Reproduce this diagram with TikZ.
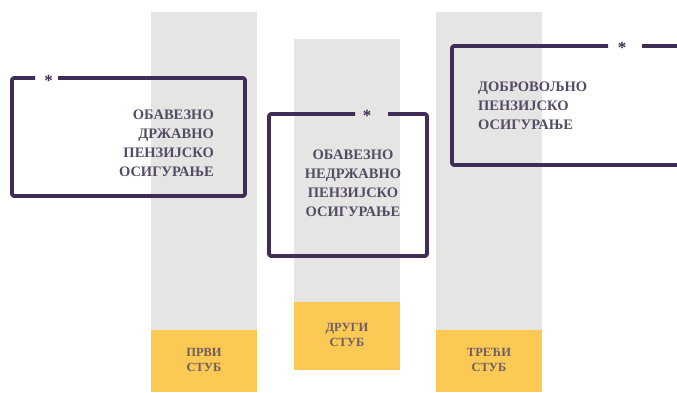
\documentclass[tikz,border=0pt]{standalone}
\usepackage{fontspec}
\setmainfont{Liberation Serif}
\definecolor{colgray}{HTML}{E5E5E3}
\definecolor{colyellow}{HTML}{FDC955}
\definecolor{framecol}{HTML}{3F2D57}
\definecolor{txtcol}{HTML}{564B66}
\definecolor{stubcol}{HTML}{6E5E62}
\tikzset{
  column/.style={fill=colgray, draw=none},
  base/.style={fill=colyellow, draw=none},
  frame/.style={draw=framecol, line width=3.6pt, line join=round, line cap=butt, rounded corners=1.5pt},
  boxtext/.style={text=txtcol, inner sep=0pt, font=\fontsize{14.5}{18.8}\selectfont\bfseries},
  stubtext/.style={text=stubcol, inner sep=0pt, align=center, font=\fontsize{12.5}{15.5}\selectfont\bfseries},
  starmark/.style={text=framecol, inner sep=0pt, font=\fontsize{17}{17}\selectfont\bfseries}
}
\begin{document}
\begin{tikzpicture}[x=1pt,y=-1pt]
\useasboundingbox (0,0) rectangle (677,392);
\clip (0,0) rectangle (677,392);
% columns
\fill[column] (151,12) rectangle (257,392);
\fill[column] (294,39) rectangle (400,302);
\fill[column] (436,12) rectangle (542,392);
% bases
\fill[base] (151,330) rectangle (257,392);
\fill[base] (294,302) rectangle (400,370);
\fill[base] (436,330) rectangle (542,392);
% base labels
\node[stubtext] (s1) at (204,360) {ПРВИ\\СТУБ};
\node[stubtext] (s2) at (347,335) {ДРУГИ\\СТУБ};
\node[stubtext] (s3) at (489,360) {ТРЕЋИ\\СТУБ};
% frame 1
\draw[frame] (35,78) -- (12,78) -- (12,196) -- (245,196) -- (245,78) -- (58,78);
\node[starmark] (st1) at (48.5,81) {*};
\node[boxtext, align=right, anchor=north east] (t1) at (214,110) {ОБАВЕЗНО\\ДРЖАВНО\\ПЕНЗИЈСКО\\ОСИГУРАЊЕ};
% frame 2
\draw[frame] (355,114) -- (269,114) -- (269,256) -- (427,256) -- (427,114) -- (388,114);
\node[starmark] (st2) at (367,116) {*};
\node[boxtext, align=center, anchor=north] (t2) at (353,150) {ОБАВЕЗНО\\НЕДРЖАВНО\\ПЕНЗИЈСКО\\ОСИГУРАЊЕ};
% frame 3
\draw[frame] (608,46) -- (452,46) -- (452,165) -- (690,165);
\draw[frame] (642,46) -- (690,46);
\node[starmark] (st3) at (622,48) {*};
\node[boxtext, align=left, anchor=north west] (t3) at (478,82) {ДОБРОВОЉНО\\ПЕНЗИЈСКО\\ОСИГУРАЊЕ};
\end{tikzpicture}
\end{document}
